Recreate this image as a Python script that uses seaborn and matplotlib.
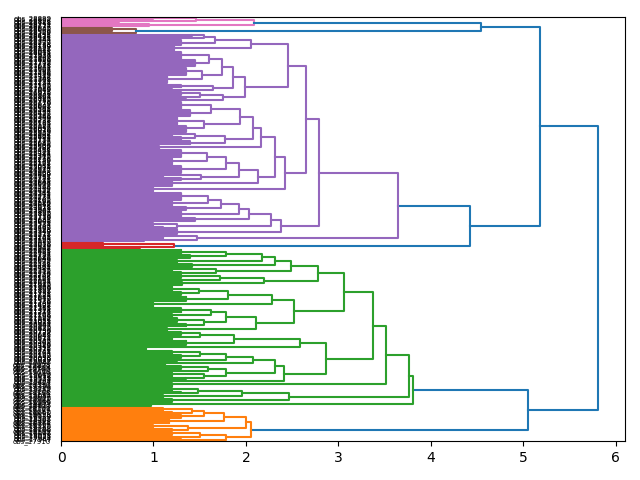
import matplotlib
matplotlib.use("Agg")
import matplotlib.pyplot as plt
import seaborn as sns
import pandas as pd

# Tree data: [merge_height, upper_child, lower_child]; leaf bundles: (n_leaves, merge_height)
pink = [2.09, [1.46, (2, 1.0), (2, 0.4)], [0.95, (2, 0.63), (1, 0.0)]]
brown = [0.81, (3, 0.55), (2, 0.3)]

S1 = [2.05, [1.67, [1.55, (2, 1.42), (2, 1.2)], (4, 1.3)], (4, 1.22)]
S2 = [1.99, [1.865, [1.74, [1.6, (6, 1.3), (5, 1.45)], [1.52, (6, 1.35), (6, 1.15)]],
             [1.64, (3, 1.3), (2, 1.2)]],
      [1.75, [1.5, (3, 1.3), (2, 1.05)], (2, 1.35)]]
S = [2.46, S1, S2]
R1 = [2.16, [2.08, [1.94, [1.62, (6, 1.3), (5, 1.4)], [1.55, (6, 1.25), (5, 1.35)]],
             [1.77, [1.45, (3, 1.2), (3, 1.3)], (3, 1.4)]], (3, 1.06)]
X = [2.13, [1.92, [1.79, [1.58, (6, 1.3), (5, 1.2)], (6, 1.3)], [1.51, (3, 1.1), (2, 1.3)]], (4, 1.2)]
R = [2.31, R1, X]
Q = [2.42, R, (4, 1.0)]
P_A1 = [2.65, S, Q]
P_A2 = [2.38, [2.27, [2.03, [1.92, [1.73, [1.59, (6, 1.3), (4, 1.2)], (3, 1.35)], (5, 1.3)], (3, 1.45)],
               [1.26, (3, 1.0), (2, 1.1)]], (4, 1.26)]
P_A = [2.79, P_A1, P_A2]
P_B = [1.47, (3, 1.1), (2, 0.9)]
purple = [3.65, P_A, P_B]
red = [1.22, (3, 0.45), (2, 0.85)]

G5 = [2.78, [2.49, [2.32, [2.17, [1.79, (4, 1.3), (3, 1.4)], (3, 1.25)], (3, 1.42)],
             [1.68, (3, 1.2), (2, 1.3)]],
      [2.2, [1.72, (3, 1.3), (2, 1.2)], (3, 1.31)]]
G7 = [2.52, [2.28, [1.81, [1.49, (4, 1.2), (3, 1.3)], (4, 1.35)], (4, 0.99)],
      [2.11, [1.79, [1.62, (4, 1.3), (3, 1.2)], [1.55, (4, 1.25), (3, 1.35)]], (3, 1.15)]]
G6 = [3.06, G5, G7]
G287 = [2.87, [2.59, [1.87, [1.5, (3, 1.3), (3, 1.2)], (4, 1.35)], (3, 0.92)],
        [2.41, [2.32, [2.08, [1.78, [1.5, (3, 1.2), (3, 1.3)], (2, 1.25)], (3, 1.13)],
                [1.79, [1.59, (3, 1.3), (2, 1.2)], [1.55, (3, 1.2), (2, 1.35)]]], (2, 0.4)]]
G3 = [3.37, G6, G287]
G2 = [3.52, G3, (3, 1.2)]
Gc = [2.47, [1.96, [1.48, (3, 1.2), (2, 1.3)], (3, 1.1)], (3, 1.2)]
G1 = [3.76, G2, Gc]
green = [3.81, G1, (3, 0.97)]

orange = [2.06, [2.0, [1.76, [1.55, [1.42, (3, 1.1), (2, 1.2)], (3, 1.3)], (4, 1.17)],
                 [1.37, (3, 1.0), (2, 1.2)]],
          [1.79, [1.5, (3, 1.2), (2, 1.0)], (2, 1.3)]]

root = [5.81, [5.18, [4.54, pink, brown], [4.42, purple, red]], [5.05, green, orange]]

label_prefix = "obs_"
label_start = 28899


def count(node):
    if isinstance(node, tuple):
        return node[0]
    return count(node[1]) + count(node[2])


N = count(root)
max_h = root[0]
thr = 0.7 * max_h

rows = []
leaf_pos = []
state = {"leaf": 0, "link": 0, "cluster": 0}


def add_link(xs, ys, cl):
    lid = state["link"]
    state["link"] += 1
    for x, y in zip(xs, ys):
        rows.append({"link": lid, "x": x, "y": y, "cluster": -1 if cl is None else cl})


def bundle(n, h, cl):
    if n == 1:
        i = state["leaf"]
        state["leaf"] += 1
        y = 10 * (N - 1 - i) + 5
        leaf_pos.append(y)
        return y, 0.0
    a = n // 2
    ya, ha = bundle(a, h, cl)
    yb, hb = bundle(n - a, h, cl)
    add_link([ha, h, h, hb], [ya, ya, yb, yb], cl)
    return (ya + yb) / 2, h


def build(node, cl):
    if isinstance(node, tuple):
        n, h = node
        if cl is None and n > 1:
            cl = state["cluster"]
            state["cluster"] += 1
        return bundle(n, h, cl)
    h, a, b = node
    if cl is None and h < thr:
        cl = state["cluster"]
        state["cluster"] += 1
    ya, ha = build(a, cl)
    yb, hb = build(b, cl)
    add_link([ha, h, h, hb], [ya, ya, yb, yb], cl)
    return (ya + yb) / 2, h


build(root, None)
K = state["cluster"]
pal = sns.color_palette("tab10")


def color_of(cl):
    if cl < 0:
        return "above"
    return "c%d" % (1 + (K - 1 - int(cl)) % 9)


df = pd.DataFrame(rows)
df["color"] = [color_of(c) for c in df["cluster"]]
palette = {"above": pal[0]}
for k in range(1, 10):
    palette["c%d" % k] = pal[k]
palette = {k: v for k, v in palette.items() if k in set(df["color"])}

fig = plt.figure(figsize=(6.4, 4.8), dpi=100)
ax = fig.add_axes([61 / 640, 39 / 480, 564 / 640, 424 / 480])
sns.lineplot(data=df, x="x", y="y", units="link", estimator=None, hue="color",
             palette=palette, sort=False, legend=False, linewidth=1.5, ax=ax)
ax.set_xlim(0, max_h * 1.05)
ax.set_ylim(0, 10 * N)
ax.set_xlabel("")
ax.set_ylabel("")
labels = [f"{label_prefix}{label_start - 37 * i}" for i in range(N)]
ax.set_yticks(leaf_pos)
ax.set_yticklabels(labels, fontsize=5)
for t in ax.get_yticklines():
    t.set_visible(False)
fig.savefig("out.png", dpi=100)
